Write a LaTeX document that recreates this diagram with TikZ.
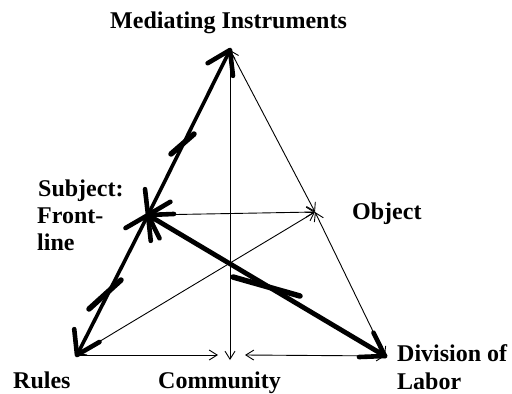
\documentclass[tikz,border=0pt]{standalone}
\usepackage{fontspec}
\setmainfont{Liberation Serif}
\usetikzlibrary{arrows.meta,calc}
\begin{document}
\begin{tikzpicture}[x=1pt,y=-1pt,
  thinlink/.style={line width=0.9pt,{Straight Barb[length=8pt,width=10pt]}-{Straight Barb[length=8pt,width=10pt]}},
  thinend/.style={line width=0.9pt,-{Straight Barb[length=8pt,width=10pt]}},
  thicklink/.style={line width=3.6pt,line cap=round},
  headv/.style={line width=4.6pt,line cap=round,line join=round},
  bolt/.style={line width=5.5pt,line cap=round},
  lbl/.style={font=\bfseries\fontsize{24}{27}\selectfont,inner sep=0pt,anchor=base west}
]
\useasboundingbox (0,0) rectangle (512,394);
% vertices
\coordinate (M) at (230,50);
\coordinate (S) at (148,215);
\coordinate (O) at (315,212);
\coordinate (R) at (77,355);
\coordinate (D) at (385,356);
\coordinate (Cl) at (218,355);
\coordinate (Cr) at (245,355);
\coordinate (Cb) at (230,360);
% labels
\node[lbl] (lm) at (110,28) {Mediating Instruments};
\node[lbl] (ls1) at (38,196) {Subject:};
\node[lbl] (ls2) at (37,223) {Front-};
\node[lbl] (ls3) at (37,250) {line};
\node[lbl] (lo) at (352,219) {Object};
\node[lbl] (lr) at (13,388) {Rules};
\node[lbl] (lc) at (158,388) {Community};
\node[lbl] (ld1) at (397,361) {Division of};
\node[lbl] (ld2) at (397,389) {Labor};
% thin connectors
\draw[thinlink] (M) -- (O);
\draw[thinlink] (M) -- (Cb);
\draw[thinlink] (S) -- (O);
\draw[thinlink] (R) -- (O);
\draw[thinlink] (O) -- (D);
\draw[thinend] (R) -- (Cl);
\draw[thinlink] (D) -- (Cr);
% thick connectors
\draw[thicklink] (S) -- (M);
\draw[thicklink] (R) -- (S);
\draw[thicklink,line width=4.8pt] (S) -- (D);
% thick arrowheads (open barbs)
\foreach \a/\b in {M/S,S/M,S/R,R/S,S/D,D/S}
  \draw[headv] let \p1=($(\b)-(\a)$), \n1={atan2(\y1,\x1)} in
    ($(\a)+(\n1+33:26pt)$) -- (\a) -- ($(\a)+(\n1-33:26pt)$);
% contradiction marks
\draw[bolt] (171,154) -- (194,134);
\draw[bolt] (89,309) -- (121,280);
\draw[bolt] (233,277) -- (300,296);
\end{tikzpicture}
\end{document}
